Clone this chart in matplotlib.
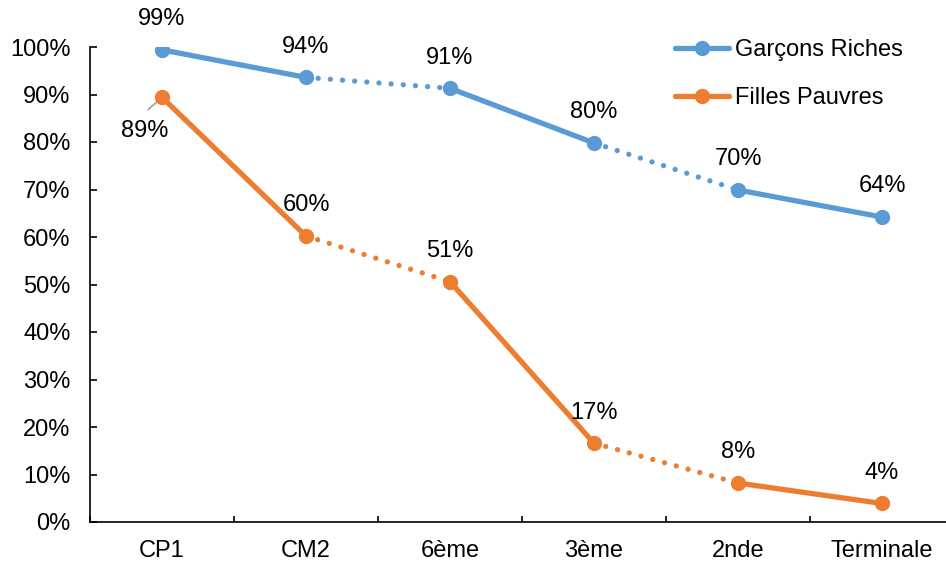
import matplotlib
matplotlib.use("Agg")
import matplotlib.pyplot as plt
from matplotlib.lines import Line2D

plt.rcParams['font.family'] = ['Liberation Sans', 'DejaVu Sans']

categories = ["CP1", "CM2", "6ème", "3ème", "2nde", "Terminale"]
garcons_riches = [99.4, 93.6, 91.3, 79.8, 69.9, 64.2]
filles_pauvres = [89.4, 60.2, 50.6, 16.6, 8.2, 3.9]
series_names = ["Garçons Riches", "Filles Pauvres"]
y_ticks = [0, 10, 20, 30, 40, 50, 60, 70, 80, 90, 100]

BLUE = "#5B9BD5"
ORANGE = "#ED7D31"
LW = 3.8
MS = 10
FS = 17

# segment styles between consecutive stages: solid, dotted, solid, dotted, solid
seg_styles = ["solid", "dotted", "solid", "dotted", "solid"]

fig = plt.figure(figsize=(9.46, 5.63), dpi=100)
ax = fig.add_axes([90 / 946, 1 - 522 / 563, 864 / 946, 475 / 563])

x = list(range(len(categories)))

def draw_series(values, color):
    for i, style in enumerate(seg_styles):
        xs = [x[i], x[i + 1]]
        ys = [values[i], values[i + 1]]
        if style == "solid":
            ax.plot(xs, ys, color=color, lw=LW, solid_capstyle="round", zorder=3)
        else:
            ax.plot(xs, ys, color=color, lw=LW, linestyle=(0, (0.01, 2.3)),
                    dash_capstyle="round", zorder=3)
    ax.plot(x, values, linestyle="none", marker="o", ms=MS, color=color, zorder=4)

draw_series(garcons_riches, BLUE)
draw_series(filles_pauvres, ORANGE)

# value labels above each point
for xi, v in zip(x, garcons_riches):
    ax.annotate(f"{v:.0f}%", (xi, v), xytext=(0, 22), textcoords="offset points",
                ha="center", va="center", fontsize=FS, color="black")
for i, (xi, v) in enumerate(zip(x, filles_pauvres)):
    if i == 0:
        ax.annotate(f"{v:.0f}%", (xi, v), xytext=(-12.5, -24.5), textcoords="offset points",
                    ha="center", va="center", fontsize=FS, color="black")
        ax.annotate("", xy=(xi, v), xytext=(-10, -8.8), textcoords="offset points",
                    arrowprops=dict(arrowstyle="-", color="#A6A6A6", lw=1.3,
                                    shrinkA=0, shrinkB=0), zorder=2)
    else:
        ax.annotate(f"{v:.0f}%", (xi, v), xytext=(0, 22), textcoords="offset points",
                    ha="center", va="center", fontsize=FS, color="black")

ax.set_xlim(-0.5, len(categories) - 0.5)
ax.set_ylim(0, 100)
ax.set_yticks(y_ticks)
ax.set_yticklabels([f"{t}%" for t in y_ticks])
ax.set_xticks(x)
ax.set_xticklabels(categories)
ax.set_xticks([i + 0.5 for i in range(-1, len(categories))], minor=True)

ax.tick_params(axis="y", direction="in", length=5, width=1.2, pad=14,
               labelsize=FS, colors="black")
ax.tick_params(axis="x", which="major", length=0, pad=13, labelsize=FS, colors="black")
ax.tick_params(axis="x", which="minor", direction="in", length=4.5, width=1.2)

for side in ["top", "right"]:
    ax.spines[side].set_visible(False)
for side in ["left", "bottom"]:
    ax.spines[side].set_linewidth(1.2)
    ax.spines[side].set_color("black")

handles = [
    Line2D([], [], color=BLUE, lw=LW, marker="o", ms=MS, solid_capstyle="round"),
    Line2D([], [], color=ORANGE, lw=LW, marker="o", ms=MS, solid_capstyle="round"),
]
leg = fig.legend(handles, series_names, loc="upper left",
                 bbox_to_anchor=(675 / 946, 1 - 39 / 563), frameon=False,
                 fontsize=FS, handlelength=2.3, handletextpad=0.25,
                 labelspacing=1.1, borderpad=0, borderaxespad=0)

fig.savefig("out.png", dpi=100)
